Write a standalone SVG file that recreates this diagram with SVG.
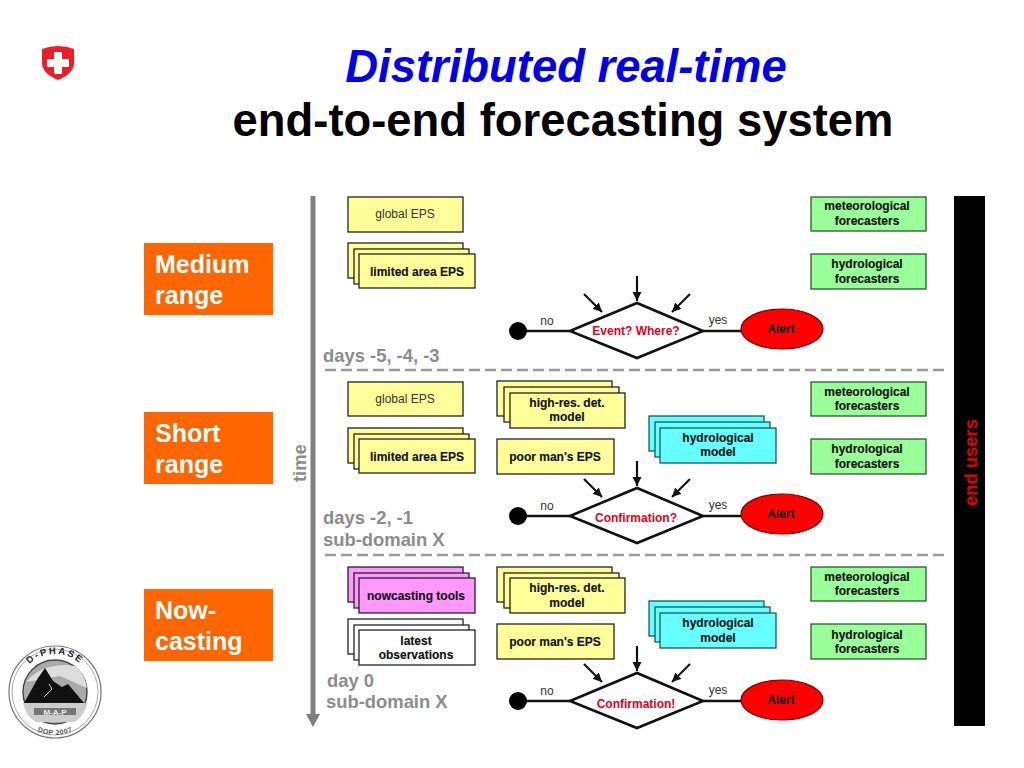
<svg xmlns="http://www.w3.org/2000/svg" xmlns:xlink="http://www.w3.org/1999/xlink" width="1024" height="768" viewBox="0 0 1024 768">
<style>
text{font-family:"Liberation Sans",Arial,sans-serif}
.box{stroke:#222;stroke-width:1.3}
.y{fill:#ffff99}.g{fill:#99ff99;stroke:#2a5a2a}.c{fill:#66ffff;stroke:#1a5a5a}.m{fill:#ff99ff}.w{fill:#fff}
.t{font-size:12px;font-weight:bold;fill:#111;text-anchor:middle;stroke:#111;stroke-width:.15}
.n{font-size:12px;fill:#333;text-anchor:middle}
.q{font-size:12px;font-weight:bold;fill:#e00020;text-anchor:middle}
.l{font-size:18.4px;font-weight:bold;fill:#8c8c8c}
.o{font-size:25px;font-weight:bold;fill:#fff}
.line{stroke:#111;stroke-width:2.6;fill:none}
.arr{stroke:#111;stroke-width:2.2;fill:none;marker-end:url(#ah)}
.dash{stroke:#999;stroke-width:2.6;stroke-dasharray:11 5;fill:none}
</style>
<defs>
<marker id="ah" markerUnits="userSpaceOnUse" markerWidth="10" markerHeight="10" refX="9" refY="4.5" orient="auto"><path d="M0 0L9 4.5L0 9Z" fill="#111"/></marker>
<path id="arcTop" d="M17 692A38 38 0 0 1 93 692"/>
<path id="arcBot" d="M12 692A43 43 0 0 0 98 692"/>
</defs>

<g id="logo-ch">
<path d="M42 49Q58 43 74 49V63C74 72 65 77 58 80C51 77 42 72 42 63Z" fill="#ee1c25"/>
<path d="M54 52H62V59H69V67H62V74H54V67H47V59H54Z" fill="#fff"/>
</g>

<g id="title">
<text x="566" y="82" font-size="45.4" font-weight="bold" font-style="italic" fill="#0000ee" text-anchor="middle">Distributed real-time</text>
<text x="563" y="136" font-size="45.4" font-weight="bold" fill="#000" text-anchor="middle">end-to-end forecasting system</text>
</g>

<g id="logo-dphase">
<circle cx="55" cy="692" r="46" fill="#fff" stroke="#777" stroke-width="1.2"/>
<circle cx="55" cy="692" r="43" fill="none" stroke="#aaa" stroke-width="1"/>
<circle cx="55" cy="692" r="32" fill="#aaa" stroke="#444" stroke-width="1.4"/>
<path d="M26 682C35 672 50 662 75 666C82 672 86 680 87 688L60 676Z" fill="#ddd"/>
<path d="M24 703L38 678L45 668L53 681L62 687L68 684L84 703Z" fill="#111"/>
<path d="M23 703H87C86 712 80 719 74 722H36C30 719 25 712 23 703Z" fill="#ccc"/>
<rect x="34" y="708" width="42" height="7" fill="#777"/>
<text x="55" y="715" font-size="8" font-weight="bold" fill="#eee" text-anchor="middle">M-A-P</text>
<path d="M44 697L52 689L49 684" fill="none" stroke="#ccc" stroke-width="1"/>
<text font-size="9.5" font-weight="bold" fill="#222" letter-spacing="2"><textPath xlink:href="#arcTop" href="#arcTop" startOffset="50%" text-anchor="middle">D-PHASE</textPath></text>
<text font-size="7" font-weight="bold" fill="#555" letter-spacing=".5"><textPath xlink:href="#arcBot" href="#arcBot" startOffset="50%" text-anchor="middle">DOP 2007</textPath></text>
</g>

<g id="range-medium"><rect x="144" y="243" width="129" height="72" fill="#ff6600"/><text class="o" x="155" y="273">Medium</text><text class="o" x="155" y="304">range</text></g>
<g id="range-short"><rect x="144" y="412" width="129" height="72" fill="#ff6600"/><text class="o" x="155" y="442">Short</text><text class="o" x="155" y="473">range</text></g>
<g id="range-now"><rect x="144" y="589" width="129" height="72" fill="#ff6600"/><text class="o" x="155" y="619">Now-</text><text class="o" x="155" y="650">casting</text></g>

<g id="connectors">
<path d="M313 196V716" stroke="#808080" stroke-width="5" fill="none"/>
<path d="M306 714H320L313 727Z" fill="#808080"/>
<path class="dash" d="M325 370H946"/>
<path class="dash" d="M325 555H946"/>
<path class="line" d="M518 331H570M703 331H741"/>
<path class="arr" d="M637 276V301"/><path class="arr" d="M584 294L602 312"/><path class="arr" d="M690 294L672 312"/>
<path class="line" d="M518 516H570M703 516H741"/>
<path class="arr" d="M637 461V486"/><path class="arr" d="M584 479L602 497"/><path class="arr" d="M690 479L672 497"/>
<path class="line" d="M518 701H570M703 701H741"/>
<path class="arr" d="M637 646V671"/><path class="arr" d="M584 664L602 682"/><path class="arr" d="M690 664L672 682"/>
</g>

<g id="time-labels" class="labels">
<text class="l" transform="translate(306 482) rotate(-90)">time</text>
<text class="l" x="323" y="362">days -5, -4, -3</text>
<text class="l" x="323" y="524">days -2, -1</text>
<text class="l" x="323" y="546">sub-domain X</text>
<text class="l" x="327" y="687">day 0</text>
<text class="l" x="326" y="708">sub-domain X</text>
<text class="n" x="547" y="325">no</text><text class="n" x="718" y="324">yes</text>
<text class="n" x="547" y="510">no</text><text class="n" x="718" y="509">yes</text>
<text class="n" x="547" y="695">no</text><text class="n" x="718" y="694">yes</text>
</g>

<g id="global-eps-1"><rect class="box y" x="348" y="197" width="115" height="35"/><text class="n" x="405" y="218">global EPS</text></g>
<g id="limited-eps-1"><rect class="box y" x="348" y="243" width="115" height="35"/><rect class="box y" x="354" y="249" width="115" height="35"/><rect class="box y" x="359" y="254" width="116" height="34"/><text class="t" x="417" y="276">limited area EPS</text></g>

<g id="decision-1"><circle cx="518" cy="331" r="9" fill="#000"/><path d="M570 331L637 303L703 331L637 358Z" fill="#fff" stroke="#111" stroke-width="2.6"/><text class="q" x="636" y="335">Event? Where?</text></g>
<g id="alert-1"><ellipse cx="782" cy="329" rx="41" ry="20" fill="#ff0000" stroke="#7a0000" stroke-width="1.2"/><text class="t" x="781" y="333">Alert</text></g>

<g id="met-1"><rect class="box g" x="811" y="197" width="115" height="34"/><text class="t" x="867" y="210">meteorological</text><text class="t" x="867" y="225">forecasters</text></g>
<g id="hyd-1"><rect class="box g" x="811" y="254" width="115" height="35"/><text class="t" x="867" y="268">hydrological</text><text class="t" x="867" y="283">forecasters</text></g>

<g id="global-eps-2"><rect class="box y" x="348" y="382" width="115" height="34"/><text class="n" x="405" y="403">global EPS</text></g>
<g id="limited-eps-2"><rect class="box y" x="348" y="428" width="115" height="35"/><rect class="box y" x="354" y="434" width="115" height="35"/><rect class="box y" x="359" y="439" width="116" height="34"/><text class="t" x="417" y="461">limited area EPS</text></g>
<g id="highres-2"><rect class="box y" x="497" y="381" width="115" height="35"/><rect class="box y" x="504" y="387" width="115" height="35"/><rect class="box y" x="510" y="393" width="115" height="35"/><text class="t" x="567" y="407">high-res. det.</text><text class="t" x="567" y="421">model</text></g>
<g id="poor-2"><rect class="box y" x="497" y="439" width="117" height="35"/><text class="t" x="555" y="461">poor man's EPS</text></g>
<g id="hydro-model-2"><rect class="box c" x="649" y="416" width="115" height="35"/><rect class="box c" x="655" y="422" width="115" height="35"/><rect class="box c" x="660" y="428" width="116" height="35"/><text class="t" x="718" y="442">hydrological</text><text class="t" x="718" y="456">model</text></g>
<g id="decision-2"><circle cx="518" cy="516" r="9" fill="#000"/><path d="M570 516L637 488L703 516L637 543Z" fill="#fff" stroke="#111" stroke-width="2.6"/><text class="q" x="636" y="522">Confirmation?</text></g>
<g id="alert-2"><ellipse cx="782" cy="514" rx="41" ry="20" fill="#ff0000" stroke="#7a0000" stroke-width="1.2"/><text class="t" x="781" y="518">Alert</text></g>
<g id="met-2"><rect class="box g" x="811" y="382" width="115" height="34"/><text class="t" x="867" y="396">meteorological</text><text class="t" x="867" y="410">forecasters</text></g>
<g id="hyd-2"><rect class="box g" x="811" y="439" width="115" height="35"/><text class="t" x="867" y="453">hydrological</text><text class="t" x="867" y="468">forecasters</text></g>

<g id="nowcasting"><rect class="box m" x="348" y="567" width="115" height="35"/><rect class="box m" x="354" y="573" width="115" height="35"/><rect class="box m" x="359" y="578" width="116" height="35"/><text class="t" x="416" y="600">nowcasting tools</text></g>
<g id="observations"><rect class="box w" x="348" y="619" width="115" height="35"/><rect class="box w" x="354" y="625" width="115" height="35"/><rect class="box w" x="359" y="630" width="116" height="35"/><text class="t" x="416" y="645">latest</text><text class="t" x="416" y="659">observations</text></g>
<g id="highres-3"><rect class="box y" x="497" y="567" width="115" height="35"/><rect class="box y" x="504" y="573" width="115" height="35"/><rect class="box y" x="510" y="578" width="115" height="35"/><text class="t" x="567" y="592">high-res. det.</text><text class="t" x="567" y="607">model</text></g>
<g id="poor-3"><rect class="box y" x="497" y="624" width="117" height="35"/><text class="t" x="555" y="646">poor man's EPS</text></g>
<g id="hydro-model-3"><rect class="box c" x="649" y="601" width="115" height="35"/><rect class="box c" x="655" y="607" width="115" height="35"/><rect class="box c" x="660" y="613" width="116" height="35"/><text class="t" x="718" y="627">hydrological</text><text class="t" x="718" y="642">model</text></g>
<g id="decision-3"><circle cx="518" cy="701" r="9" fill="#000"/><path d="M570 701L637 673L703 701L637 728Z" fill="#fff" stroke="#111" stroke-width="2.6"/><text class="q" x="636" y="708">Confirmation!</text></g>
<g id="alert-3"><ellipse cx="782" cy="700" rx="41" ry="20" fill="#ff0000" stroke="#7a0000" stroke-width="1.2"/><text class="t" x="781" y="704">Alert</text></g>
<g id="met-3"><rect class="box g" x="811" y="567" width="115" height="34"/><text class="t" x="867" y="581">meteorological</text><text class="t" x="867" y="595">forecasters</text></g>
<g id="hyd-3"><rect class="box g" x="811" y="624" width="115" height="35"/><text class="t" x="867" y="639">hydrological</text><text class="t" x="867" y="653">forecasters</text></g>

<g id="end-users"><rect x="954" y="196" width="31" height="530" fill="#000"/><text transform="translate(977 506) rotate(-90)" font-size="18.4" font-weight="bold" fill="#e00000">end users</text></g>
</svg>
